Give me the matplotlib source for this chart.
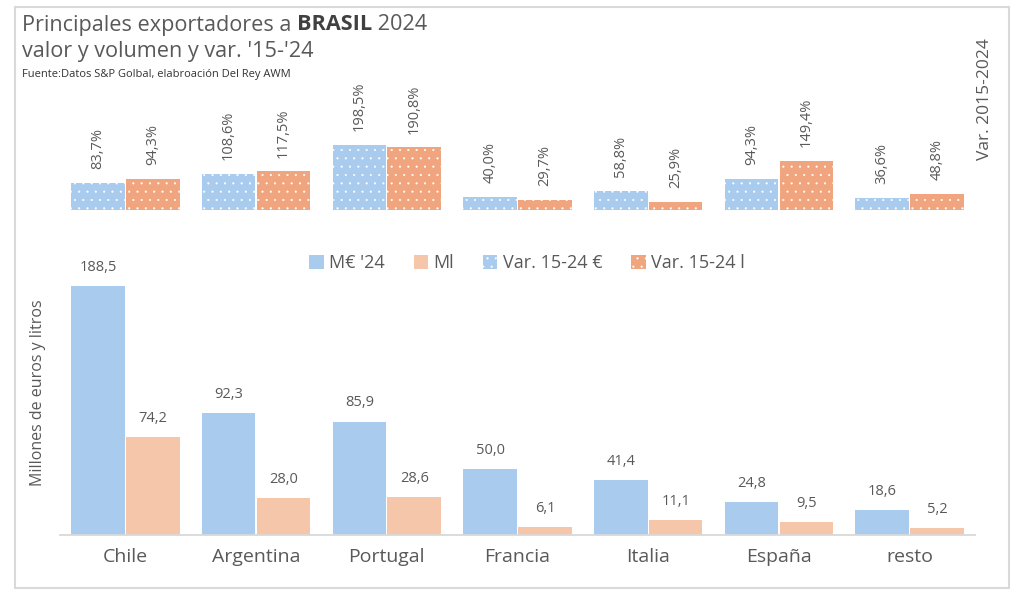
import matplotlib
matplotlib.use("Agg")
import matplotlib.pyplot as plt
import numpy as np
from matplotlib.patches import Rectangle

plt.rcParams['font.family'] = ['Open Sans', 'DejaVu Sans']
plt.rcParams['hatch.color'] = 'white'
plt.rcParams['hatch.linewidth'] = 0.3

paises = ["Chile", "Argentina", "Portugal", "Francia", "Italia", "España", "resto"]
valor_meur = [188.5, 92.3, 85.9, 50.0, 41.4, 24.8, 18.6]
volumen_ml = [74.2, 28.0, 28.6, 6.1, 11.1, 9.5, 5.2]
var_eur = [83.7, 108.6, 198.5, 40.0, 58.8, 94.3, 36.6]
var_l = [94.3, 117.5, 190.8, 29.7, 25.9, 149.4, 48.8]

C_BLUE = "#A9CBEE"
C_ORANGE = "#F6C6AA"
C_ORANGE2 = "#F0A57E"
TXT = "#595959"

W, H = 1024, 601
fig = plt.figure(figsize=(W / 100, H / 100), dpi=100)
fig.patch.set_facecolor("white")

fig.patches.append(Rectangle((15 / W, 1 - 588 / H), (1009 - 15) / W, (588 - 7) / H,
                             transform=fig.transFigure, fill=False,
                             edgecolor="#D9D9D9", linewidth=1.5))

x = np.arange(len(paises))
bw = 0.41
off = 0.21

# main chart
ax = fig.add_axes([60 / W, 1 - 535 / H, (975 - 60) / W, (535 - 250) / H])
b1 = ax.bar(x - off, valor_meur, bw, color=C_BLUE, label="M€ '24")
b2 = ax.bar(x + off, volumen_ml, bw, color=C_ORANGE, label="Ml")
ax.set_xlim(-0.5, len(paises) - 0.5)
ax.set_ylim(0, (535 - 250) / 1.321)
for bars in (b1, b2):
    for r in bars:
        ax.annotate(f"{r.get_height():.1f}".replace(".", ","),
                    (r.get_x() + r.get_width() / 2, r.get_height()),
                    xytext=(0, 8), textcoords="offset points", ha="center",
                    va="bottom", fontsize=10.5, color=TXT)
ax.set_xticks(x)
ax.set_xticklabels(paises, fontsize=14, color=TXT)
ax.tick_params(axis="x", length=0, pad=9)
ax.set_yticks([])
for s in ("top", "right", "left"):
    ax.spines[s].set_visible(False)
ax.spines["bottom"].set_color("#D9D9D9")
ax.spines["bottom"].set_linewidth(1.3)
ax.set_ylabel("Millones de euros y litros", fontsize=11.5, color=TXT, labelpad=10)

# top chart
ax2 = fig.add_axes([60 / W, 1 - 210 / H, (975 - 60) / W, (210 - 130) / H])
b3 = ax2.bar(x - off, var_eur, bw, color=C_BLUE, hatch="..", edgecolor="white",
             linewidth=0, label="Var. 15-24 €")
b4 = ax2.bar(x + off, var_l, bw, color=C_ORANGE2, hatch="..", edgecolor="white",
             linewidth=0, label="Var. 15-24 l")
ax2.set_xlim(-0.5, len(paises) - 0.5)
ax2.set_ylim(0, 80 / 0.328)
for bars in (b3, b4):
    for r in bars:
        ax2.annotate(f"{r.get_height():.1f}%".replace(".", ","),
                     (r.get_x() + r.get_width() / 2, r.get_height()),
                     xytext=(0, 10), textcoords="offset points", ha="center",
                     va="bottom", rotation=90, fontsize=10.5, color=TXT)
ax2.axis("off")
ax2.set_facecolor("none")

fig.text(985 / W, 1 - 99 / H, "Var. 2015-2024", rotation=90, ha="center",
         va="center", fontsize=12.5, color=TXT)

handles = [b1, b2, b3, b4]
fig.legend(handles, [h.get_label() for h in handles], loc="center",
           bbox_to_anchor=(527 / W, 1 - 263 / H), ncol=4, frameon=False,
           fontsize=13, labelcolor=TXT, handlelength=0.8, handleheight=0.8,
           handletextpad=0.3, columnspacing=1.6)

base = fig.text(22 / W, 1 - 25 / H, "Principales exportadores a ", fontsize=15.6,
                color=TXT, va="center", ha="left")
fig.canvas.draw()
r = fig.canvas.get_renderer()
bb = base.get_window_extent(renderer=r)
bt = fig.text(bb.x1 / W, 1 - 25 / H, "BRASIL", fontsize=15.6, color="#404040",
              fontweight="bold", va="center", ha="left")
bb2 = bt.get_window_extent(renderer=r)
fig.text(bb2.x1 / W, 1 - 25 / H, " 2024", fontsize=15.6, color=TXT,
         va="center", ha="left")
fig.text(22 / W, 1 - 51 / H, "valor y volumen y var. '15-'24", fontsize=15.6,
         color=TXT, va="center", ha="left")
fig.text(22 / W, 1 - 75 / H, "Fuente:Datos S&P Golbal, elabroación Del Rey AWM",
         fontsize=8, color="#333333", va="center", ha="left")

fig.savefig("out.png", dpi=100, facecolor="white")
